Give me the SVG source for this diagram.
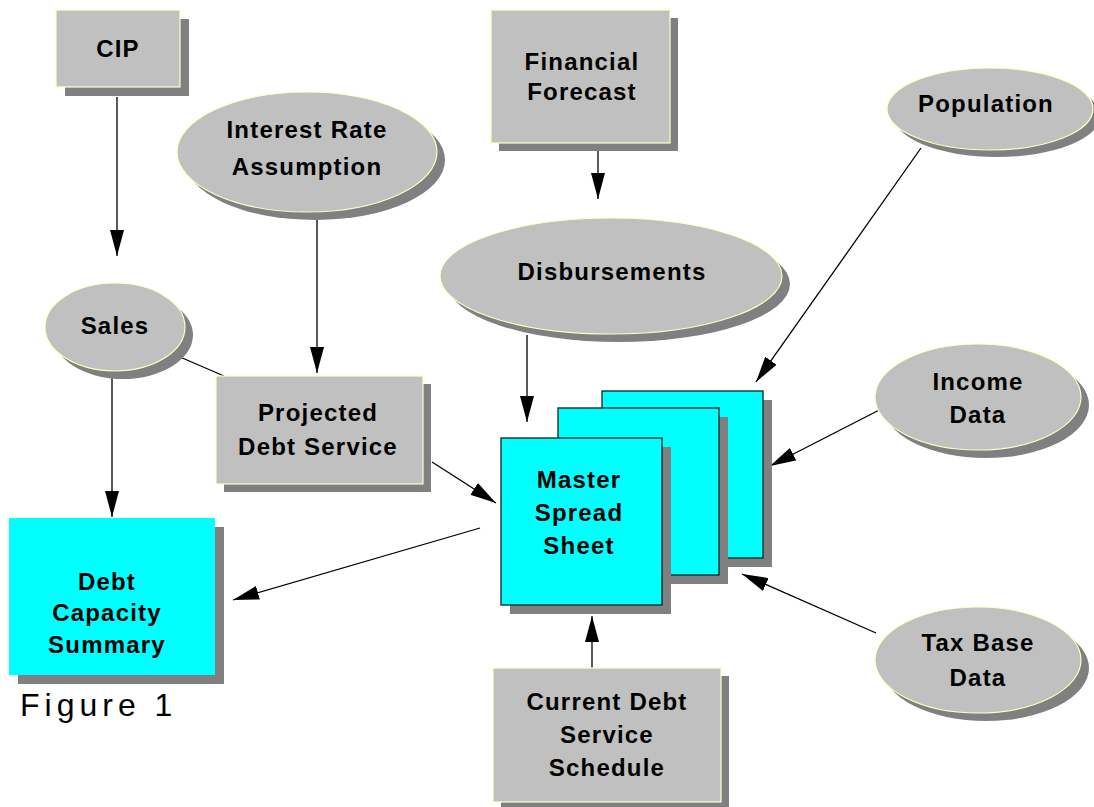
<svg xmlns="http://www.w3.org/2000/svg" width="1094" height="807" viewBox="0 0 1094 807">
  <defs>
    <marker id="arrow" markerUnits="userSpaceOnUse" markerWidth="26" markerHeight="14" refX="26" refY="7" orient="auto">
      <path d="M0,0 L26,7 L0,14 z" fill="#000"/>
    </marker>
  </defs>
  <style>
    .shadow { fill: #808080; }
    .grey { fill: #c0c0c0; stroke: #ffffc0; stroke-width: 1.2; }
    .sheet { fill: #00ffff; stroke: #1a3030; stroke-width: 1.4; }
    .cyan { fill: #00ffff; }
    .label { font-family: "Liberation Sans", Arial, sans-serif; font-weight: bold; font-size: 24px; letter-spacing: 1.2px; fill: #000; text-anchor: middle; }
    .caption { font-family: "Liberation Sans", Arial, sans-serif; font-size: 32px; letter-spacing: 5px; fill: #000; }
    .link { stroke: #000; stroke-width: 1.3; fill: none; }
    .arrow { marker-end: url(#arrow); }
  </style>

  <rect width="1094" height="807" fill="#fff"/>

  <!-- connectors -->
  <g id="connectors">
    <line class="link arrow" x1="117" y1="97" x2="117" y2="256"/>
    <line class="link arrow" x1="317" y1="212" x2="317" y2="373"/>
    <line class="link arrow" x1="598" y1="151" x2="598" y2="199"/>
    <line class="link arrow" x1="921" y1="148" x2="756" y2="382"/>
    <line class="link arrow" x1="527" y1="335" x2="527" y2="422"/>
    <line class="link arrow" x1="891" y1="404" x2="770" y2="466"/>
    <line class="link arrow" x1="876" y1="633" x2="742" y2="574"/>
    <line class="link arrow" x1="592" y1="668" x2="592" y2="616"/>
    <line class="link arrow" x1="432" y1="462" x2="496" y2="503"/>
    <line class="link arrow" x1="480" y1="528" x2="233" y2="600"/>
    <line class="link arrow" x1="112" y1="372" x2="112" y2="517"/>
    <line class="link" x1="180" y1="357" x2="224" y2="376"/>
  </g>

  <g id="cip">
    <rect class="shadow" x="65" y="19" width="124" height="77"/>
    <rect class="grey" x="56" y="10" width="124" height="77"/>
    <text class="label" x="118" y="57">CIP</text>
  </g>

  <g id="interest-rate">
    <ellipse class="shadow" cx="315" cy="160" rx="130" ry="60"/>
    <ellipse class="grey" cx="307" cy="152" rx="130" ry="60"/>
    <text class="label" x="307" y="138">Interest Rate</text>
    <text class="label" x="307" y="175">Assumption</text>
  </g>

  <g id="financial-forecast">
    <rect class="shadow" x="499" y="18" width="179" height="133"/>
    <rect class="grey" x="491" y="10" width="179" height="133"/>
    <text class="label" x="582" y="70">Financial</text>
    <text class="label" x="582" y="100">Forecast</text>
  </g>

  <g id="population">
    <ellipse class="shadow" cx="997" cy="116" rx="103" ry="41"/>
    <ellipse class="grey" cx="990" cy="109" rx="103" ry="41"/>
    <text class="label" x="986" y="112">Population</text>
  </g>

  <g id="sales">
    <ellipse class="shadow" cx="123" cy="335" rx="70" ry="44"/>
    <ellipse class="grey" cx="115" cy="327" rx="70" ry="44"/>
    <text class="label" x="115" y="334">Sales</text>
  </g>

  <g id="disbursements">
    <ellipse class="shadow" cx="619" cy="284" rx="171" ry="58"/>
    <ellipse class="grey" cx="611" cy="276" rx="171" ry="58"/>
    <text class="label" x="612" y="280">Disbursements</text>
  </g>

  <g id="projected-debt-service">
    <rect class="shadow" x="224" y="384" width="207" height="108"/>
    <rect class="grey" x="216" y="376" width="207" height="108"/>
    <text class="label" x="318" y="421">Projected</text>
    <text class="label" x="318" y="455">Debt Service</text>
  </g>

  <g id="master-spread-sheet">
    <rect class="shadow" x="611" y="400" width="161" height="167"/>
    <rect class="sheet" x="602" y="391" width="161" height="167"/>
    <rect class="shadow" x="567" y="417" width="161" height="167"/>
    <rect class="sheet" x="558" y="408" width="161" height="167"/>
    <rect class="shadow" x="510" y="447" width="161" height="167"/>
    <rect class="sheet" x="501" y="438" width="161" height="167"/>
    <text class="label" x="579" y="488">Master</text>
    <text class="label" x="579" y="521">Spread</text>
    <text class="label" x="579" y="554">Sheet</text>
  </g>

  <g id="income-data">
    <ellipse class="shadow" cx="986" cy="405" rx="103" ry="53"/>
    <ellipse class="grey" cx="978" cy="397" rx="103" ry="53"/>
    <text class="label" x="978" y="390">Income</text>
    <text class="label" x="978" y="423">Data</text>
  </g>

  <g id="debt-capacity-summary">
    <rect class="shadow" x="18" y="527" width="206" height="157"/>
    <rect class="cyan" x="9" y="518" width="206" height="157"/>
    <text class="label" x="107" y="590">Debt</text>
    <text class="label" x="107" y="621">Capacity</text>
    <text class="label" x="107" y="653">Summary</text>
  </g>

  <g id="tax-base-data">
    <ellipse class="shadow" cx="986" cy="668" rx="103" ry="53"/>
    <ellipse class="grey" cx="978" cy="660" rx="103" ry="53"/>
    <text class="label" x="978" y="651">Tax Base</text>
    <text class="label" x="978" y="686">Data</text>
  </g>

  <g id="current-debt-service-schedule">
    <rect class="shadow" x="501" y="676" width="228" height="134"/>
    <rect class="grey" x="493" y="668" width="228" height="134"/>
    <text class="label" x="607" y="710">Current Debt</text>
    <text class="label" x="607" y="743">Service</text>
    <text class="label" x="607" y="776">Schedule</text>
  </g>

  <text class="caption" x="20" y="716">Figure 1</text>
</svg>
